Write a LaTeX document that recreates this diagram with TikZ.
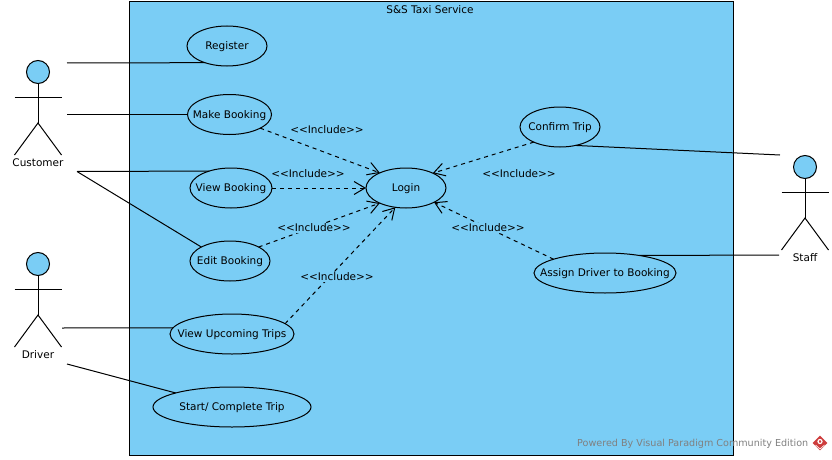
\documentclass[tikz,border=0pt]{standalone}
\usepackage{fontspec}
\setmainfont{DejaVu Sans}
\usepackage{tikz}
\usetikzlibrary{shapes.geometric, arrows.meta, calc}
\definecolor{usecaseblue}{RGB}{122,205,245}
\definecolor{logored}{RGB}{205,60,60}
\tikzset{
    usecase/.style={draw, ellipse, fill=usecaseblue, inner sep=0pt, outer sep=0pt, line width=1pt, font=\fontsize{10.5}{12}\selectfont},
    label/.style={font=\fontsize{10.5}{12}\selectfont, inner sep=0pt},
    inclabel/.style={label, fill=usecaseblue, inner sep=1pt},
    assoc/.style={line width=1pt},
    includes/.style={line width=1pt, dash pattern=on 4pt off 4pt, -{Straight Barb[length=11pt,width=13pt]}}
}
% text that does not widen its ellipse
\newcommand{\CaseText}[1]{\raisebox{-3.7pt}[0pt][0pt]{\makebox[0pt]{#1}}}
% actor: name, x of the head, y of the head, text
\newcommand{\ActorFigure}[4]{
    \node[draw, circle, fill=usecaseblue, minimum size=23pt, inner sep=0pt, outer sep=0pt, line width=1pt] (#1) at (#2,#3) {};
    \draw[assoc] (#1.south) -- ++(0,39.5) coordinate (#1hip);
    \draw[assoc] ($(#1hip)+(-23.5,32)$) -- (#1hip) -- ($(#1hip)+(23.5,32)$);
    \draw[assoc] ($(#1.south)+(-23.5,14)$) -- ($(#1.south)+(23.5,14)$);
    \node[label] (#1text) at ($(#1hip)+(0,40)$) {#4};
}
\begin{document}
\begin{tikzpicture}[x=1pt, y=-1pt]
    \useasboundingbox (0,0) rectangle (832,460);
    % System
    \draw[fill=usecaseblue, line width=1pt] (129,2) rectangle (733,455);
    \node[label] (title) at (430,9.5) {S\&S Taxi Service};

    % Use cases
    \node[usecase, minimum width=80pt, minimum height=40pt] (register) at (227,46) {\CaseText{Register}};
    \node[usecase, minimum width=84pt, minimum height=40pt] (make) at (229.5,114.5) {\CaseText{Make Booking}};
    \node[usecase, minimum width=82pt, minimum height=40pt] (view) at (231,188) {\CaseText{View Booking}};
    \node[usecase, minimum width=80pt, minimum height=40pt] (edit) at (230,261) {\CaseText{Edit Booking}};
    \node[usecase, minimum width=124pt, minimum height=40pt] (upcoming) at (232,334) {\CaseText{View Upcoming Trips}};
    \node[usecase, minimum width=158pt, minimum height=40pt] (start) at (232,407) {\CaseText{Start/ Complete Trip}};
    \node[usecase, minimum width=80pt, minimum height=40pt] (login) at (406,188) {\CaseText{Login}};
    \node[usecase, minimum width=80pt, minimum height=40pt] (confirm) at (560,127) {\CaseText{Confirm Trip}};
    \node[usecase, minimum width=142pt, minimum height=40pt] (assign) at (605,273) {\CaseText{Assign Driver to Booking}};

    % Actors
    \ActorFigure{customer}{38}{72}{Customer}
    \ActorFigure{driver}{38}{264}{Driver}
    \ActorFigure{staff}{805}{167}{Staff}

    % Free ends
    \coordinate (custA) at (67,63);
    \coordinate (custB) at (67,114.5);
    \coordinate (custC) at (77,171.5);
    \coordinate (drivA) at (62,328);
    \coordinate (drivB) at (67,364);
    \coordinate (stafA) at (780,155);
    \coordinate (stafB) at (779,255);

    % Associations
    \draw[assoc] (custA) -- (register.217.7);
    \draw[assoc] (custB) -- (make.180);
    \draw[assoc] (custC) -- (view.142);
    \draw[assoc] (custC) -- (edit.154);
    \draw[assoc] (drivA) -- (upcoming.174);
    \draw[assoc] (drivB) -- (start.166);
    \draw[assoc] (stafA) -- (confirm.-50);
    \draw[assoc] (stafB) -- (assign.27);

    % Includes
    \draw[includes] (make.-24) -- (login.150);
    \draw[includes] (view.0) -- (login.180);
    \draw[includes] (edit.26.6) -- (login.210);
    \draw[includes] (upcoming.11.7) -- (login.241);
    \draw[includes] (confirm.210) -- (login.29);
    \draw[includes] (assign.165) -- (login.-27);

    \node[inclabel] (incA) at (327,130) {<{}<Include>{}>};
    \node[inclabel] (incB) at (308,174) {<{}<Include>{}>};
    \node[inclabel] (incC) at (314,228) {<{}<Include>{}>};
    \node[inclabel] (incD) at (337,277) {<{}<Include>{}>};
    \node[inclabel] (incE) at (519,174) {<{}<Include>{}>};
    \node[inclabel] (incF) at (488,228) {<{}<Include>{}>};

    % Footer
    \node[label, font=\fontsize{9.6}{12}\selectfont, text=black!50, anchor=west] (footer) at (577,443.5) {Powered By Visual Paradigm Community Edition};
    \node[fill=logored, diamond, minimum size=15pt, inner sep=0pt] (logo) at (820,443) {};
    \draw[white, line width=1.2pt] (820,441.5) circle (2pt);
    \draw[white, line width=0.6pt] (815.5,445) -- (820,449) -- (824.5,445);
\end{tikzpicture}
\end{document}
